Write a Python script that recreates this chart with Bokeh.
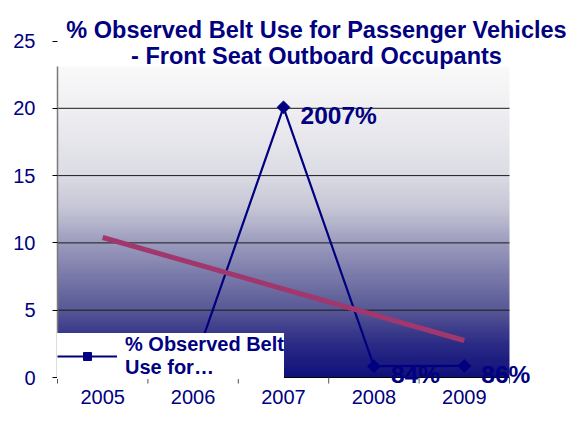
import numpy as np
from bokeh.plotting import figure
from bokeh.models import (Range1d, FactorRange, FixedTicker, ColumnDataSource,
                          LabelSet, Label, Legend, LegendItem)
from bokeh.core.properties import value
from bokeh.embed import file_html
from bokeh.resources import INLINE

# ---------------- data ----------------
years = ["2005", "2006", "2007", "2008", "2009"]
belt_use = [0.82, 0.82, 20.07, 0.84, 0.86]
point_labels = ["", "", "2007%", "84%", "86%"]
trend_years = ["2005", "2009"]
trend_values = [10.4, 2.75]
y_ticks = [0, 5, 10, 15, 20, 25]
gridline_values = [5, 10, 15, 20]
title_lines = ["% Observed Belt Use for Passenger Vehicles",
               "- Front Seat Outboard Occupants"]
legend_label = "% Observed Belt\nUse for\u2026"

# ---------------- style ----------------
NAVY = "#000080"
TREND = "#A0386E"
FONT = "Liberation Sans"
PLOT_TOP = 23.1          # top of the shaded plot area (value units)
W, H = 566, 408
CAT_PX = 90.4            # width of one category in px
PAD_PX = 57              # left/right padding of category area in px
PX_PER_UNIT = 13.46      # vertical scale
ZERO_PX = 377            # pixel row of value 0

p = figure(width=W, height=H,
           x_range=FactorRange(factors=years, range_padding=PAD_PX / CAT_PX,
                               range_padding_units="absolute", factor_padding=0),
           y_range=Range1d(-(H - ZERO_PX) / PX_PER_UNIT, ZERO_PX / PX_PER_UNIT),
           output_backend="svg", toolbar_location=None,
           min_border_left=0, min_border_right=0,
           min_border_top=0, min_border_bottom=0)
p.title.visible = False
p.outline_line_color = None
p.background_fill_color = "white"
p.border_fill_color = "white"
p.xgrid.visible = False
p.ygrid.visible = False

# gradient background (white at top -> navy at bottom)
n = 300
gv = np.linspace(0, PLOT_TOP, n)
sv = [0, 2.5, 5, 7.5, 10, 12.5, 15, 20, PLOT_TOP]
sr = [16, 44, 88, 122, 156, 198, 220, 240, 250]
sg = [16, 44, 88, 122, 156, 198, 220, 240, 250]
sb = [124, 134, 150, 170, 190, 214, 229, 243, 250]
rgba = np.zeros((n, 1, 4), dtype=np.uint8)
rgba[:, 0, 0] = np.interp(gv, sv, sr)
rgba[:, 0, 1] = np.interp(gv, sv, sg)
rgba[:, 0, 2] = np.interp(gv, sv, sb)
rgba[:, 0, 3] = 255
img = rgba.view(dtype=np.uint32).reshape((n, 1))
p.image_rgba(image=[img], x=0, y=0, dw=len(years), dh=PLOT_TOP)

# grid lines, left and bottom axis lines
ng = len(gridline_values)
p.segment(x0=[0] * ng, y0=gridline_values, x1=[len(years)] * ng, y1=gridline_values,
          line_color="#1a1a1a", line_width=1)
p.segment(x0=[0], y0=[0], x1=[0], y1=[PLOT_TOP], line_color="#7a7a7a", line_width=1.5)
p.segment(x0=[0], y0=[0], x1=[len(years)], y1=[0], line_color="black", line_width=1)
# category boundary ticks
bnd = list(range(len(years) + 1))
p.segment(x0=bnd, y0=[0] * len(bnd), x1=bnd, y1=[-0.45] * len(bnd),
          line_color="#555555", line_width=1)

# series
src = ColumnDataSource(dict(year=years, value=belt_use, label=point_labels))
r_line = p.line("year", "value", source=src, line_color=NAVY, line_width=2.2)
r_pts = p.scatter("year", "value", source=src, marker="square", angle=np.pi / 4,
                  size=9, fill_color=NAVY, line_color=NAVY)
p.line(trend_years, trend_values, line_color=TREND, line_width=5)

labels = LabelSet(x="year", y="value", text="label", source=src,
                  x_offset=17, y_offset=-17, text_baseline="alphabetic",
                  text_font=value(FONT), text_font_size="24.5px",
                  text_font_style="bold", text_color=NAVY)
p.add_layout(labels)

# axes
xa = p.xaxis[0]
xa.fixed_location = 0
xa.axis_line_color = None
xa.major_tick_out = 0
xa.major_tick_in = 0
xa.minor_tick_out = 0
xa.major_label_standoff = 12
xa.major_label_text_font = FONT
xa.major_label_text_font_size = "20px"
xa.major_label_text_color = NAVY

ya = p.yaxis[0]
ya.fixed_location = 0
ya.ticker = FixedTicker(ticks=y_ticks)
ya.axis_line_color = None
ya.major_tick_out = 5
ya.major_tick_in = 0
ya.minor_tick_out = 0
ya.minor_tick_in = 0
ya.major_tick_line_color = "black"
ya.major_label_standoff = 17
ya.major_label_text_font = FONT
ya.major_label_text_font_size = "20px"
ya.major_label_text_color = NAVY

# title as two centred lines
for txt, yy in zip(title_lines, [25.85, 23.85]):
    p.add_layout(Label(x=2.865, y=yy, text=txt, text_align="center",
                       text_baseline="alphabetic", text_font=FONT,
                       text_font_size="23.5px", text_font_style="bold",
                       text_color=NAVY))

legend = Legend(items=[LegendItem(label=value(legend_label), renderers=[r_line, r_pts])],
                location=(PAD_PX, 29), background_fill_color="white",
                background_fill_alpha=1.0, border_line_color=None,
                padding=11, margin=0, glyph_width=60, glyph_height=20,
                label_standoff=8, spacing=0,
                label_text_font=FONT, label_text_font_size="20px",
                label_text_font_style="bold", label_text_color=NAVY)
p.add_layout(legend)

open("out.html", "w").write(file_html(p, INLINE))
